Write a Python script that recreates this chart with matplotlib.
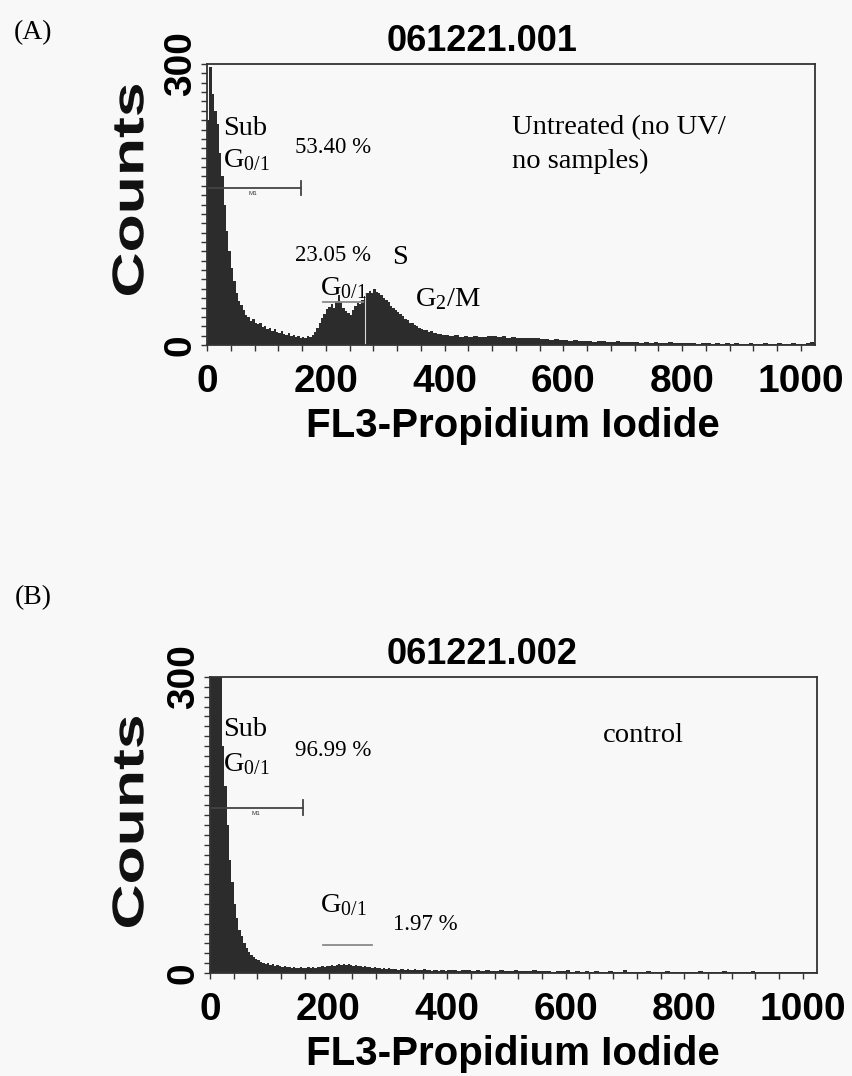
import numpy as np
import matplotlib.pyplot as plt
import matplotlib.transforms as mtransforms
from matplotlib.textpath import TextPath
from matplotlib.patches import PathPatch
from matplotlib.font_manager import FontProperties

plt.rcParams['mathtext.default'] = 'regular'

SERIF = 'Liberation Serif'
SANS = 'Liberation Sans'
FILL = '#2c2c2c'
BG = '#f8f8f8'

# channel bins: 4 channels wide up to 400, 8 channels wide after that
edges = np.r_[np.arange(0, 400, 4), np.arange(400, 1025, 8)]

# 061221.001 - untreated
counts_a_low = [
    240, 297, 268, 250, 236, 205, 180, 150, 122, 100,
    82, 68, 56, 47, 43, 37, 32, 30, 26, 28,
    23, 22, 24, 19, 20, 17, 18, 15, 17, 14,
    13, 15, 12, 11, 13, 10, 11, 9, 10, 8,
    9, 8, 10, 9, 11, 14, 18, 24, 29, 33,
    38, 41, 44, 40, 47, 53, 46, 40, 36, 34,
    32, 37, 42, 45, 44, 48, 52, 56, 58, 55,
    60, 57, 56, 53, 50, 48, 46, 42, 40, 37,
    35, 33, 31, 28, 27, 24, 23, 21, 20, 18,
    17, 16, 16, 14, 15, 13, 13, 12, 12, 11,
]
counts_a_high = [
    11, 10, 11, 9, 10, 9, 10, 9, 9, 10,
    10, 9, 10, 8, 9, 8, 8, 7, 7, 7,
    6, 6, 5, 6, 5, 5, 4, 5, 4, 4,
    4, 3, 4, 4, 3, 3, 4, 3, 3, 3,
    3, 2, 3, 2, 3, 2, 2, 3, 2, 2,
    2, 2, 2, 1, 2, 2, 1, 2, 1, 2,
    1, 2, 1, 1, 2, 1, 1, 2, 1, 1,
    2, 1, 1, 2, 1, 1, 2, 3,
]

# 061221.002 - control
counts_b_low = [
    320, 320, 320, 320, 310, 230, 190, 150, 115, 92,
    70, 56, 44, 37, 30, 25, 21, 18, 16, 14,
    13, 11, 10, 9, 10, 8, 9, 7, 8, 7,
    6, 7, 6, 6, 5, 6, 5, 5, 6, 5,
    5, 6, 5, 6, 5, 6, 6, 7, 6, 7,
    7, 8, 7, 8, 9, 8, 9, 8, 9, 8,
    7, 8, 7, 7, 6, 7, 6, 6, 5, 6,
    5, 5, 4, 5, 4, 5, 4, 4, 4, 3,
    4, 4, 3, 4, 3, 3, 4, 3, 3, 3,
    4, 3, 3, 2, 3, 3, 2, 3, 3, 2,
]
counts_b_high = [
    3, 3, 2, 3, 3, 2, 3, 2, 3, 2,
    2, 3, 2, 2, 3, 2, 2, 2, 3, 2,
    2, 2, 1, 2, 2, 3, 1, 2, 1, 2,
    1, 2, 1, 1, 2, 1, 1, 3, 1, 1,
    1, 1, 2, 1, 1, 1, 2, 1, 1, 1,
    1, 1, 1, 2, 1, 1, 1, 1, 2, 1,
    1, 1, 1, 1, 2, 1, 1, 1, 1, 1,
    1, 1, 1, 1, 1, 1, 1, 1,
]

xticks = [0, 200, 400, 600, 800, 1000]
yticks = [0, 300]

fig = plt.figure(figsize=(8.52, 10.76), dpi=100, facecolor=BG)


def stretched_label(s, cx, cy, size, length):
    # bold label drawn as a path, stretched along its direction and rotated
    fp = FontProperties(family=SANS, weight='bold')
    tp = TextPath((0, 0), s, size=size, prop=fp)
    bb = tp.get_extents()
    sx = length * 0.72 / bb.width
    tr = (mtransforms.Affine2D()
          .translate(-(bb.x0 + bb.x1) / 2, -(bb.y0 + bb.y1) / 2)
          .scale(sx, 1).rotate_deg(90).scale(1 / 72.)
          .translate(cx / 100., (1076 - cy) / 100.)
          + fig.dpi_scale_trans)
    fig.add_artist(PathPatch(tp, transform=tr, color='#111111', lw=0))


def panel(rect, counts, title, title_y):
    ax = fig.add_axes(rect)
    ax.set_facecolor(BG)
    ax.stairs(counts, edges, fill=True, color=FILL, lw=0)
    ax.set_xlim(0, 1024)
    ax.set_ylim(0, 300)
    ax.set_xticks(xticks)
    ax.set_xticks(np.arange(0, 1024, 40), minor=True)
    ax.set_yticks(yticks)
    ax.set_yticks(np.arange(0, 301, 10), minor=True)
    ax.set_xticklabels([str(v) for v in xticks], fontsize=28,
                       fontweight='bold', family=SANS)
    ax.set_yticklabels([str(v) for v in yticks], fontsize=28,
                       fontweight='bold', family=SANS, rotation=90,
                       va='center')
    ax.tick_params(axis='x', which='both', direction='out', length=4,
                   width=1, pad=10, color='#333333')
    ax.tick_params(axis='y', which='both', direction='out', length=4,
                   width=1, pad=2, color='#333333')
    for sp in ax.spines.values():
        sp.set_color('#333333')
        sp.set_linewidth(1.3)
    fig.text(482 / 852, 1 - title_y / 1076, title, ha='center',
             va='center', fontsize=26, fontweight='bold', family=SANS)
    return ax


def marker(ax, x0, x1, y, tick):
    ax.plot([x0, x1], [y, y], color='#444444', lw=1.3)
    ax.plot([x1, x1], [y - tick, y + tick], color='#444444', lw=1.3)
    ax.text((x0 + x1) / 2 - 2, y - 6, 'M1', fontsize=4.5, family=SANS,
            ha='center', va='center', color='#333333')


# (A) untreated
ax_a = panel([207 / 852, 1 - 345 / 1076, 608 / 852, 281 / 1076],
             counts_a_low + counts_a_high, '061221.001', 41.7)
marker(ax_a, 2, 158, 168, 7.5)
ax_a.plot([196, 263], [45.6, 45.6], color='#8a8a8a', lw=1.3)
ax_a.plot([266, 266], [0, 55], color='#d8d8d8', lw=0.8)
ax_a.text(27, 224, 'Sub', fontsize=20.5, family=SERIF, va='baseline')
ax_a.text(27, 190, 'G$_{0/1}$', fontsize=20.5, family=SERIF, va='baseline')
ax_a.text(148, 204.6, '53.40 %', fontsize=16.5, family=SERIF, va='baseline')
ax_a.text(148, 89.7, '23.05 %', fontsize=16.5, family=SERIF, va='baseline')
ax_a.text(312, 86, 'S', fontsize=20.5, family=SERIF, va='baseline')
ax_a.text(190, 53.4, 'G$_{0/1}$', fontsize=20.5, family=SERIF, va='baseline')
ax_a.text(350, 41.6, 'G$_{2}$/M', fontsize=20.5, family=SERIF, va='baseline')
ax_a.text(513, 225, 'Untreated (no UV/', fontsize=20.5, family=SERIF,
          va='baseline')
ax_a.text(513, 189, 'no samples)', fontsize=20.5, family=SERIF, va='baseline')

# (B) control
ax_b = panel([210 / 852, 1 - 973 / 1076, 607 / 852, 296 / 1076],
             counts_b_low + counts_b_high, '061221.002', 655)
marker(ax_b, 2, 157, 167.5, 7.5)
ax_b.plot([191, 273], [28.4, 28.4], color='#8a8a8a', lw=1.3)
ax_b.text(22, 240, 'Sub', fontsize=20.5, family=SERIF, va='baseline')
ax_b.text(22, 204.7, 'G$_{0/1}$', fontsize=20.5, family=SERIF, va='baseline')
ax_b.text(143, 220, '96.99 %', fontsize=16.5, family=SERIF, va='baseline')
ax_b.text(663, 234, 'control', fontsize=20.5, family=SERIF, va='baseline')
ax_b.text(186, 62, 'G$_{0/1}$', fontsize=20.5, family=SERIF, va='baseline')
ax_b.text(308, 44, '1.97 %', fontsize=16.5, family=SERIF, va='baseline')

# axis titles
stretched_label('Counts', 128, 190, 32, 210)
stretched_label('Counts', 128, 822, 32, 210)
fig.text(513 / 852, 1 - 437 / 1076, 'FL3-Propidium Iodide', ha='center',
         va='baseline', fontsize=29, fontweight='bold', family=SANS)
fig.text(513 / 852, 1 - 1065 / 1076, 'FL3-Propidium Iodide', ha='center',
         va='baseline', fontsize=29, fontweight='bold', family=SANS)

# panel letters
fig.text(33 / 852, 1 - 33 / 1076, '(A)', ha='center', va='center',
         fontsize=20, family=SERIF)
fig.text(33 / 852, 1 - 598 / 1076, '(B)', ha='center', va='center',
         fontsize=20, family=SERIF)

fig.savefig('out.png', dpi=100, facecolor=BG)
